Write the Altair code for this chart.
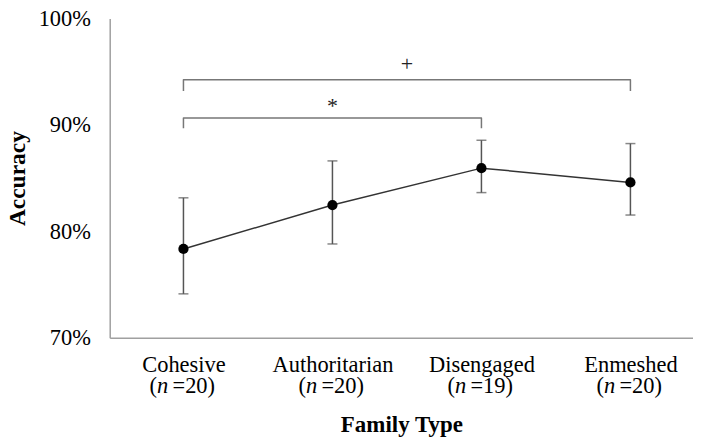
import altair as alt
import pandas as pd

# ---- data ----
families = ["Cohesive", "Authoritarian", "Disengaged", "Enmeshed"]
group_n = [20, 20, 19, 20]
accuracy = [0.7834, 0.8247, 0.8594, 0.8460]
err_upper = [0.8315, 0.8662, 0.8856, 0.8825]
err_lower = [0.7412, 0.7881, 0.8364, 0.8153]

# significance brackets
bracket_name = ["Cohesive-Disengaged", "Cohesive-Enmeshed"]
bracket_from = [0, 0]
bracket_to = [2, 3]
bracket_level = [0.9065, 0.9425]
bracket_drop = [0.8970, 0.9320]
bracket_mark = ["*", "+"]
mark_level = [0.911, 0.9508]

yticks = [0.7, 0.8, 0.9, 1.0]

FONT = "Liberation Serif"

means = pd.DataFrame({
    "idx": list(range(len(families))),
    "family": families,
    "mean": accuracy,
    "lo": err_lower,
    "hi": err_upper,
    "n": group_n,
})
means["rest"] = "=" + means["n"].astype(str) + ")"

caps = pd.concat([
    pd.DataFrame({"idx": means["idx"], "val": means["lo"]}),
    pd.DataFrame({"idx": means["idx"], "val": means["hi"]}),
])

rows = []
for name, a, b, lev, drop in zip(bracket_name, bracket_from, bracket_to, bracket_level, bracket_drop):
    rows += [
        {"bracket": name, "order": 0, "idx": a, "val": drop},
        {"bracket": name, "order": 1, "idx": a, "val": lev},
        {"bracket": name, "order": 2, "idx": b, "val": lev},
        {"bracket": name, "order": 3, "idx": b, "val": drop},
    ]
bracket_df = pd.DataFrame(rows)

sig_df = pd.DataFrame({
    "idx": [(a + b) / 2 for a, b in zip(bracket_from, bracket_to)],
    "val": mark_level,
    "label": bracket_mark,
})

label_expr = "[" + ",".join("'" + f + "'" for f in families) + "][datum.value]"

x_axis = alt.Axis(
    values=list(range(len(families))), labelExpr=label_expr, title="Family Type",
    ticks=False, tickSize=0, grid=False, domainColor="#a0a0a0", domainWidth=1.5,
    labelFont=FONT, labelFontSize=22.5, labelColor="black", labelBaseline="alphabetic",
    labelPadding=33.7, labelAngle=0,
    titleFont=FONT, titleFontSize=23, titleFontWeight="bold", titleColor="black",
    titleBaseline="alphabetic", titleY=93.7,
)
y_axis = alt.Axis(
    values=yticks, format=".0%", title="Accuracy",
    ticks=False, tickSize=0, grid=False, domainColor="#a0a0a0", domainWidth=1.5,
    labelFont=FONT, labelFontSize=22.5, labelColor="black", labelPadding=19.3,
    titleFont=FONT, titleFontSize=23.5, titleFontWeight="bold", titleColor="black",
    titleAngle=270, titleBaseline="alphabetic", titleX=-85.5,
)

x_scale = alt.Scale(domain=[-0.495, 3.42], nice=False, zero=False)
y_scale = alt.Scale(domain=[0.7, 1.0], nice=False, zero=False)

def X(field):
    return alt.X(field, scale=x_scale, axis=x_axis)

def Y(field):
    return alt.Y(field, scale=y_scale, axis=y_axis)

bars = alt.Chart(means).mark_rule(color="#555555", strokeWidth=1.5).encode(
    x=X("idx:Q"), y=Y("lo:Q"), y2="hi:Q"
)
cap_marks = alt.Chart(caps).mark_tick(
    orient="horizontal", color="#555555", size=10, thickness=1.5
).encode(x=X("idx:Q"), y=Y("val:Q"))
line = alt.Chart(means).mark_line(color="#333333", strokeWidth=1.5).encode(
    x=X("idx:Q"), y=Y("mean:Q")
)
points = alt.Chart(means).mark_circle(color="black", opacity=1, size=105).encode(
    x=X("idx:Q"), y=Y("mean:Q")
)
brackets = alt.Chart(bracket_df).mark_line(
    color="#777777", strokeWidth=1.5, strokeJoin="round"
).encode(x=X("idx:Q"), y=Y("val:Q"), detail="bracket:N", order="order:Q")
sig = alt.Chart(sig_df).mark_text(
    font=FONT, fontSize=22, color="#222222", baseline="alphabetic", align="center"
).encode(x=X("idx:Q"), y=Y("val:Q"), text="label:N")

ybase = alt.YDatum(0.7, type="quantitative", scale=y_scale, axis=y_axis)
paren = alt.Chart(means).mark_text(
    font=FONT, fontSize=22.5, color="black", baseline="alphabetic", align="right", dx=-26.5, dy=55.3
).encode(x=X("idx:Q"), y=ybase, text=alt.value("("))
nlet = alt.Chart(means).mark_text(
    font=FONT, fontSize=22.5, fontStyle="italic", color="black", baseline="alphabetic",
    align="left", dx=-26.5, dy=55.3
).encode(x=X("idx:Q"), y=ybase, text=alt.value("n"))
rest = alt.Chart(means).mark_text(
    font=FONT, fontSize=22.5, color="black", baseline="alphabetic", align="left", dx=-11.0, dy=55.3
).encode(x=X("idx:Q"), y=ybase, text="rest:N")

chart = alt.layer(
    bars, cap_marks, line, points, brackets, sig, paren, nlet, rest
).properties(
    width=585, height=320,
    padding={"left": 102, "top": 10, "right": 0, "bottom": 100},
    autosize=alt.AutoSizeParams(type="none"),
    background="white",
).configure_view(stroke=None)

chart.save("out.html", embed_options={"renderer": "svg", "actions": False})
